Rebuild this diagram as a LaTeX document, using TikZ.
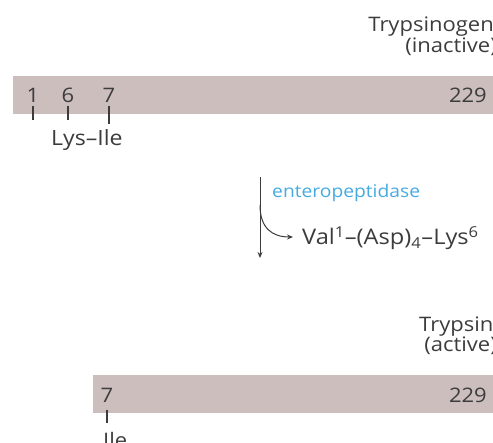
\documentclass[tikz,border=0pt]{standalone}
\usepackage{fontspec}
\setmainfont{Open Sans}[FakeStretch=1.1]
\usetikzlibrary{arrows.meta}
\definecolor{barfill}{RGB}{205,190,190}
\definecolor{txt}{RGB}{60,60,60}
\definecolor{enz}{RGB}{70,170,225}
\tikzset{
  bar/.style={fill=barfill, draw=none},
  lbl/.style={inner sep=0pt, text=txt, font=\fontsize{20}{22}\selectfont},
  small/.style={inner sep=0pt, text=enz, font=\fontsize{17.5}{19}\selectfont},
  tick/.style={draw=txt, line width=1.3pt},
  arr/.style={draw=txt, line width=1pt, -{Stealth[length=6pt,width=5pt]}}
}
\begin{document}
\begin{tikzpicture}[x=1pt,y=-1pt]
\useasboundingbox (0,0) rectangle (493,443);
\clip (0,0) rectangle (493,443);
% top bar
\path[bar] (13,76) rectangle (500,114);
\node[lbl, anchor=base east] (tg) at (494,32) {Trypsinogen};
\node[lbl, anchor=base east] (ina) at (497,53) {(inactive)};
\node[lbl, anchor=base] (n1) at (33,103) {1};
\node[lbl, anchor=base] (n6) at (68,103) {6};
\node[lbl, anchor=base] (n7) at (109,103) {7};
\node[lbl, anchor=base east] (n229) at (487,103) {229};
\coordinate (t1a) at (33,106); \coordinate (t1b) at (33,120);
\coordinate (t6a) at (68,106); \coordinate (t6b) at (68,120);
\coordinate (t7a) at (109,106); \coordinate (t7b) at (109,124);
\draw[tick] (t1a) -- (t1b);
\draw[tick] (t6a) -- (t6b);
\draw[tick] (t7a) -- (t7b);
\node[lbl, font=\fontsize{21}{23}\selectfont, anchor=base west] (lysile) at (51,146) {Lys–Ile};
% arrow
\coordinate (as) at (260,177);
\coordinate (ae) at (260,258);
\coordinate (bs) at (260,205);
\coordinate (be) at (293,237);
\draw[arr] (as) -- (ae);
\draw[arr] (bs) .. controls (260,228) and (272,237) .. (be);
\node[small, anchor=base west] (ent) at (272,198) {enteropeptidase};
\node[lbl, font=\fontsize{21.5}{23}\selectfont, anchor=base west] (val) at (302,245) {Val\textsuperscript{1}–(Asp)\textsubscript{4}–Lys\textsuperscript{6}};
% bottom bar
\path[bar] (93,375) rectangle (500,413);
\node[lbl, anchor=base west] (tr) at (419,332) {Trypsin};
\node[lbl, anchor=base east] (act) at (497,352) {(active)};
\node[lbl, anchor=base] (m7) at (107,403) {7};
\node[lbl, anchor=base east] (m229) at (487,403) {229};
\coordinate (u7a) at (107,410); \coordinate (u7b) at (107,423);
\draw[tick] (u7a) -- (u7b);
\node[lbl, anchor=base west] (ile) at (103,448) {Ile};
\end{tikzpicture}
\end{document}
